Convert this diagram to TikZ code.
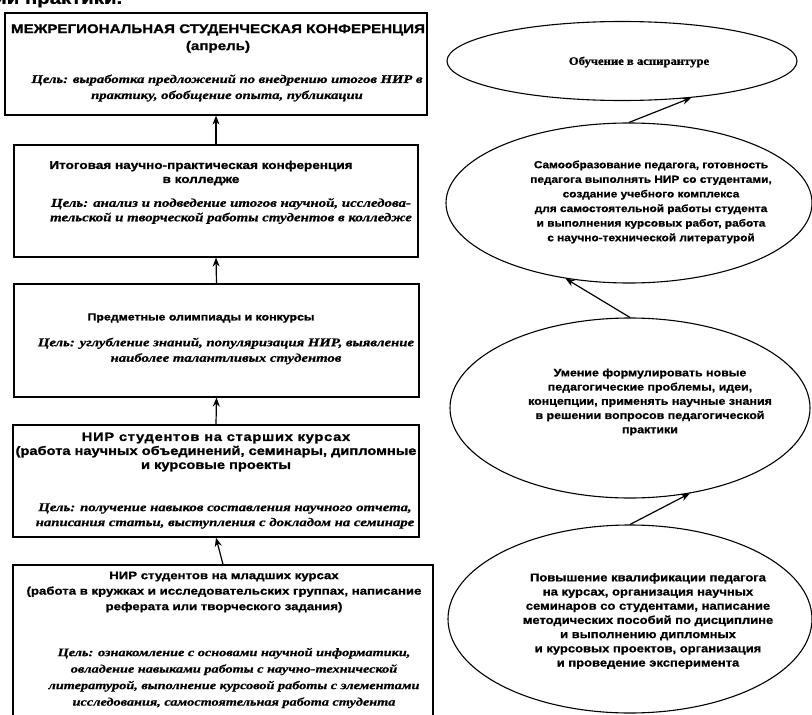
\documentclass[tikz,border=0pt]{standalone}
\usepackage{fontspec}
\setmainfont{Liberation Serif}
\newfontfamily\hf[FakeStretch=1.2,FakeBold=1.2]{Liberation Sans}
\newfontfamily\itf[FakeStretch=1.25,FakeBold=0.8]{Liberation Serif}
\newfontfamily\ef[FakeStretch=1.15,FakeBold=1]{Liberation Sans}
\newfontfamily\eserif[FakeStretch=1.1,FakeBold=1]{Liberation Serif}
\usetikzlibrary{arrows.meta,shapes.geometric}
\begin{document}
\begin{tikzpicture}[x=1pt,y=-1pt,
  box/.style={draw, line width=1.2pt, rectangle, inner sep=0pt},
  ell/.style={draw, line width=1.1pt, ellipse, inner sep=0pt},
  hd/.style={inner sep=0pt, align=center, font=\hf\bfseries},
  gl/.style={inner sep=0pt, align=center, font=\itf\bfseries\itshape},
  et/.style={inner sep=0pt, align=center, font=\ef\bfseries},
  arr/.style={line width=1.2pt, -{Stealth[length=9pt,width=7pt]}}]
\useasboundingbox (0,0) rectangle (812,715);
\clip (0,0) rectangle (812,715);
% partial heading cut by the top edge
\node[inner sep=0pt, anchor=west, font=\hf\bfseries\fontsize{17}{17}\selectfont] (top) at (-6,1) {ии практики.};
% left column boxes
\node[box, minimum width=422pt, minimum height=102pt] (b1) at (216,64) {};
\node[box, minimum width=404pt, minimum height=112pt] (b2) at (216,201) {};
\node[box, minimum width=405pt, minimum height=113pt] (b3) at (216.5,340.5) {};
\node[box, minimum width=406pt, minimum height=112pt] (b4) at (216,481) {};
\node[box, minimum width=420pt, minimum height=170pt] (b5) at (223,650) {};
% texts
\node[hd, font=\hf\bfseries\fontsize{12.6}{17}\selectfont] (b1h) at (218,38.5) {МЕЖРЕГИОНАЛЬНАЯ СТУДЕНЧЕСКАЯ КОНФЕРЕНЦИЯ\\(апрель)};
\node[gl, font=\itf\bfseries\itshape\fontsize{11.7}{16}\selectfont] (b1g) at (227,88) {Цель: выработка предложений по внедрению итогов НИР в\\практику, обобщение опыта, публикации};
\node[hd, font=\hf\bfseries\fontsize{11.3}{14}\selectfont] (b2h) at (201,173) {Итоговая научно-практическая конференция\\в колледже};
\node[gl, font=\itf\bfseries\itshape\fontsize{11.9}{14.5}\selectfont] (b2g) at (231,211) {Цель: анализ и подведение итогов научной, исследова-\\тельской и творческой работы студентов в колледже};
\node[hd, font=\hf\bfseries\fontsize{10.3}{14}\selectfont] (b3h) at (201,318) {Предметные олимпиады и конкурсы};
\node[gl, font=\itf\bfseries\itshape\fontsize{11.8}{15.5}\selectfont] (b3g) at (226,351) {Цель: углубление знаний, популяризация НИР, выявление\\наиболее талантливых студентов};
\node[hd, font=\hf\bfseries\fontsize{12.2}{14}\selectfont] (b4h) at (216,452) {{\addfontfeature{LetterSpace=6}НИР студентов на старших курсах}\\(работа научных объединений, семинары, дипломные\\и курсовые проекты};
\node[gl, font=\itf\bfseries\itshape\fontsize{11.8}{15}\selectfont] (b4g) at (225,516) {Цель: получение навыков составления научного отчета,\\написания статьи, выступления с докладом на семинаре};
\node[hd, font=\hf\bfseries\fontsize{11}{15.5}\selectfont] (b5h) at (224,592) {НИР студентов на младших курсах\\(работа в кружках и исследовательских группах, написание\\реферата или творческого задания)};
\node[gl, font=\itf\bfseries\itshape\fontsize{11.4}{16.5}\selectfont] (b5g) at (234,678) {Цель: ознакомление с основами научной информатики,\\овладение навыками работы с научно-технической\\литературой, выполнение курсовой работы с элементами\\исследования, самостоятельная работа студента};
% arrows left
\draw[arr] (b2.north) -- (b1.south);
\draw[arr] (b3.north) -- (b2.south);
\draw[arr] (b4.north) -- (b3.south);
\draw[arr] (b5.north) -- (b4.south);
% ellipses
\node[ell, minimum width=350pt, minimum height=79pt] (e1) at (622,61) {};
\node[ell, minimum width=366pt, minimum height=160pt] (e2) at (629,203) {};
\node[ell, minimum width=360pt, minimum height=180pt] (e3) at (630,408) {};
\node[ell, minimum width=364pt, minimum height=188pt] (e4) at (630,619) {};
\node[inner sep=0pt, font=\eserif\bfseries\fontsize{11.5}{13}\selectfont] (e1t) at (639,62) {Обучение в аспирантуре};
\node[et, font=\ef\bfseries\fontsize{10.3}{14.6}\selectfont] (e2t) at (651,202) {Самообразование педагога, готовность\\педагога выполнять НИР со студентами,\\создание учебного комплекса\\для самостоятельной работы студента\\и выполнения курсовых работ, работа\\с научно-технической литературой};
\node[et, font=\ef\bfseries\fontsize{10.8}{14.2}\selectfont] (e3t) at (650,402) {Умение формулировать новые\\педагогические проблемы, идеи,\\концепции, применять научные знания\\в решении вопросов педагогической\\практики};
\node[et, font=\ef\bfseries\fontsize{11.3}{14.2}\selectfont] (e4t) at (648,621) {Повышение квалификации педагога\\на курсах, организация научных\\семинаров со студентами, написание\\методических пособий по дисциплине\\и выполнению дипломных\\и курсовых проектов, организация\\и проведение эксперимента};
% arrows right
\draw[arr] (e2.north) -- (e1.-28);
\draw[arr] (e3.north) -- (e2.-130);
\draw[arr] (e4.north) -- (e3.-55);
\end{tikzpicture}
\end{document}
